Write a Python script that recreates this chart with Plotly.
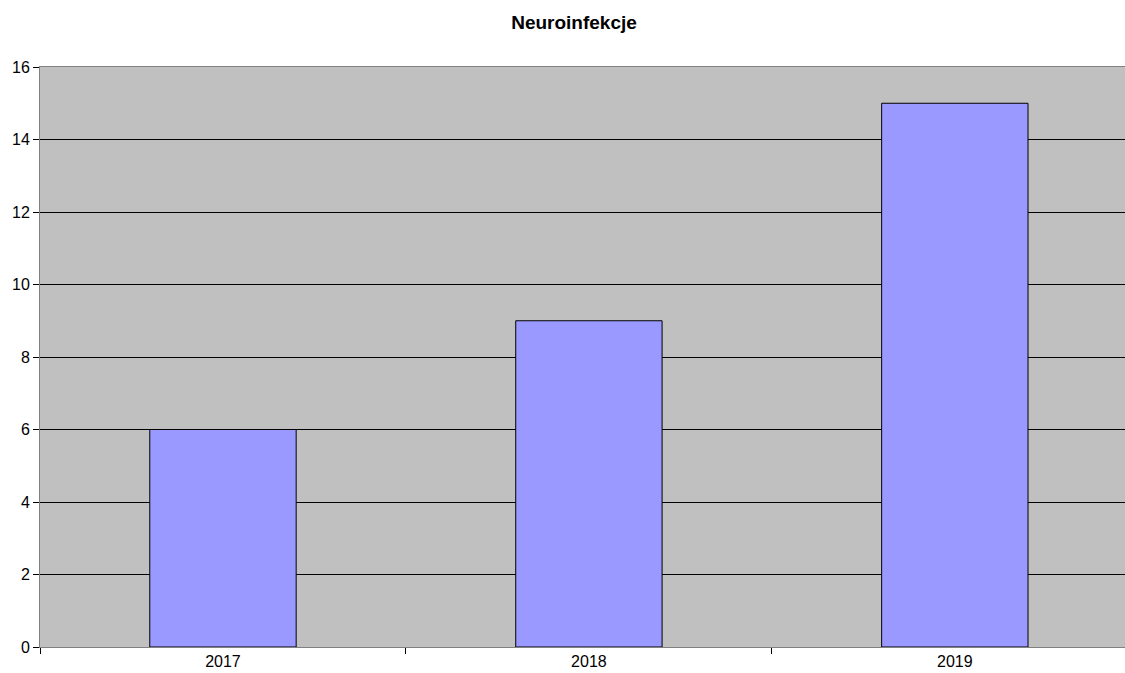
import plotly.graph_objects as go

categories = ["2017", "2018", "2019"]
values = [6, 9, 15]
y_ticks = [0, 2, 4, 6, 8, 10, 12, 14, 16]

fig = go.Figure(go.Bar(
    x=categories, y=values, width=0.4,
    marker=dict(color="#9999FF", line=dict(color="black", width=1)),
))

fig.update_layout(
    width=1125, height=673,
    margin=dict(l=40, r=0, t=67, b=26),
    paper_bgcolor="white", plot_bgcolor="#C0C0C0",
    font=dict(family="Arial, Liberation Sans", size=16, color="black"),
    showlegend=False,
    title=dict(text="<b>Neuroinfekcje</b>", x=574/1125, xanchor="center",
               y=1 - 22/673, yanchor="middle", font=dict(size=19)),
)
fig.update_xaxes(
    type="category", range=[-0.5, 2.465],
    showline=True, linecolor="#808080", linewidth=1, mirror=True,
    ticks="outside", tickson="boundaries", ticklen=6, tickcolor="black",
    showgrid=False, tickfont=dict(size=16),
)
fig.update_yaxes(
    range=[0, 16], tickvals=y_ticks,
    showline=True, linecolor="#808080", linewidth=1,
    ticks="outside", ticklen=6, tickcolor="black",
    showgrid=True, gridcolor="black", gridwidth=1,
    zeroline=False, tickfont=dict(size=16),
)

fig.write_html("out.html")
